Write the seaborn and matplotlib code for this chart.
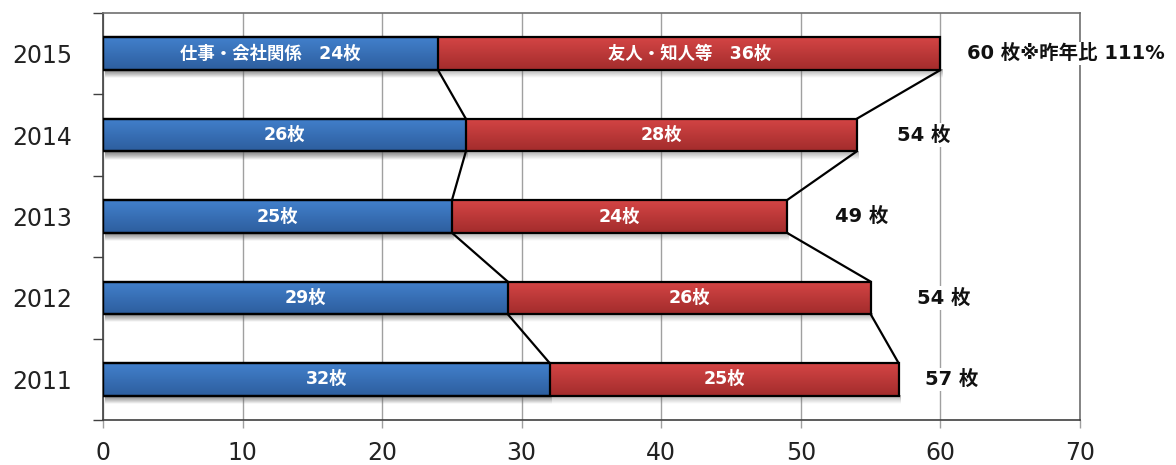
import numpy as np
import pandas as pd
import matplotlib
matplotlib.use("Agg")
import matplotlib.pyplot as plt
import seaborn as sns
from matplotlib.colors import to_rgb

years = ["2015", "2014", "2013", "2012", "2011"]
business = [24, 26, 25, 29, 32]
friends = [36, 28, 24, 26, 25]
business_labels = ["仕事・会社関係　24枚", "26枚", "25枚", "29枚", "32枚"]
friends_labels = ["友人・知人等　36枚", "28枚", "24枚", "26枚", "25枚"]
total_labels = ["60 枚※昨年比 111%", "54 枚", "49 枚", "54 枚", "57 枚"]
x_ticks = [0, 10, 20, 30, 40, 50, 60, 70]

totals = [b + f for b, f in zip(business, friends)]
df = pd.DataFrame({"year": years, "business": business, "total": totals})

sns.set_theme(style="white")
plt.rcParams["font.family"] = ["DejaVu Sans", "Noto Sans CJK JP"]

fig = plt.figure(figsize=(11.76, 4.65), dpi=100)
ax = fig.add_axes([103 / 1176, 45 / 465, (1080 - 103) / 1176, (420 - 13) / 465])

BAR_H = 0.4
sns.barplot(data=df, y="year", x="total", order=years, orient="h", color="#C83C3C",
            width=BAR_H, edgecolor="black", linewidth=1.6, ax=ax, zorder=3)
sns.barplot(data=df, y="year", x="business", order=years, orient="h", color="#3A74BE",
            width=BAR_H, edgecolor="black", linewidth=1.6, ax=ax, zorder=4)

patches = list(ax.patches)
red_patches = patches[:len(years)]
blue_patches = patches[len(years):]


def gradient_fill(p, top, bottom, z):
    x0, y0 = p.get_x(), p.get_y()
    w, h = p.get_width(), p.get_height()
    t = np.array(to_rgb(top))
    b = np.array(to_rgb(bottom))
    n = 64
    frac = np.linspace(0, 1, n)[:, None]
    img = (t[None, :] * (1 - frac) + b[None, :] * frac)[:, None, :]
    # y axis is inverted: y0 is top edge visually
    ax.imshow(img, extent=(x0, x0 + w, y0 + h, y0), origin="upper",
              aspect="auto", zorder=z, interpolation="bilinear")
    # shadow beneath
    sh = np.zeros((32, 1, 4))
    sh[:, 0, :3] = 0.4
    sh[:, 0, 3] = np.linspace(0.55, 0.0, 32)
    ax.imshow(sh, extent=(x0 + 0.15, x0 + w + 0.15, y0 + h + 0.1, y0 + h),
              origin="upper", aspect="auto", zorder=2, interpolation="bilinear")
    p.set_facecolor("none")


for p in red_patches:
    gradient_fill(p, "#D44545", "#A32C2C", 3.1)
for p in blue_patches:
    gradient_fill(p, "#4280CC", "#2D5E9E", 4.1)
for p in patches:
    p.set_zorder(5)

# connector lines
for i in range(len(years) - 1):
    yb = i + BAR_H / 2
    yt = i + 1 - BAR_H / 2
    ax.plot([business[i], business[i + 1]], [yb, yt], color="black", lw=1.6, zorder=6)
    ax.plot([totals[i], totals[i + 1]], [yb, yt], color="black", lw=1.6, zorder=6)

# segment labels
for i in range(len(years)):
    ax.text(business[i] / 2, i, business_labels[i], ha="center", va="center",
            color="white", fontsize=12.5, fontweight="bold", zorder=7)
    ax.text(business[i] + friends[i] / 2, i, friends_labels[i], ha="center", va="center",
            color="white", fontsize=12.5, fontweight="bold", zorder=7)

gaps_px = [27, 40, 48, 46, 26]
for i in range(len(years)):
    ax.annotate(total_labels[i], (totals[i], i), xytext=(gaps_px[i] * 0.72, 0),
                textcoords="offset points", ha="left", va="center",
                fontsize=14, fontweight="bold", color="#111111", zorder=7,
                annotation_clip=False,
                bbox=dict(facecolor="white", edgecolor="none", pad=1.5))

ax.set_xlim(0, 70)
ax.set_ylim(len(years) - 0.5, -0.5)
ax.set_xticks(x_ticks)
ax.set_xticklabels([str(v) for v in x_ticks])
ax.set_yticks(range(len(years)))
ax.set_yticklabels(years)
ax.set_yticks(np.arange(-0.5, len(years), 1.0), minor=True)
ax.set_xlabel("")
ax.set_ylabel("")

ax.grid(axis="x", color="#A0A0A0", lw=1.0, zorder=0)
ax.set_axisbelow(True)
for s in ax.spines.values():
    s.set_visible(True)
    s.set_color("#707070")
    s.set_linewidth(1.2)
ax.spines["left"].set_color("#404040")
ax.spines["bottom"].set_color("#404040")

ax.tick_params(axis="y", which="major", length=0, pad=22, labelsize=17, labelcolor="#222222")
ax.tick_params(axis="y", which="minor", left=True, length=7, width=1.0, color="#404040")
ax.tick_params(axis="x", which="major", bottom=True, length=6, width=1.0, color="#A0A0A0",
               pad=9, labelsize=17, labelcolor="#222222")

fig.savefig("out.png", dpi=100)
